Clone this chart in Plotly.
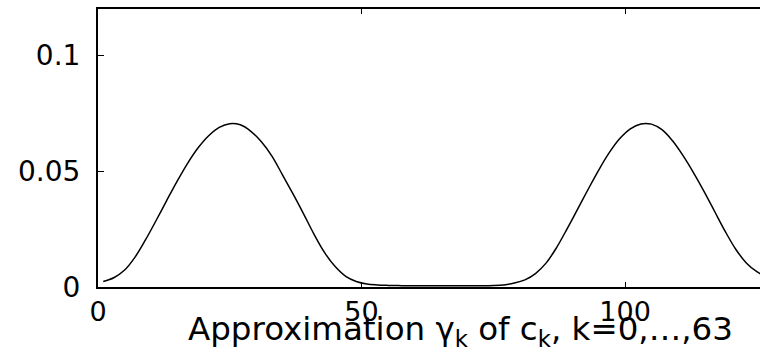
import plotly.graph_objects as go

# Data (index k, approximation value)
k_vals = [1, 3, 5, 7, 9, 11, 13, 15, 17, 19, 21, 23, 25, 27, 29, 31, 33, 35, 37, 39,
          41, 43, 45, 47, 49, 51, 53, 55, 57, 59, 61, 63, 65, 67, 69, 71, 73, 75, 77, 79,
          81, 83, 85, 87, 89, 91, 93, 95, 97, 99, 101, 103, 105, 107, 109, 111, 113, 115,
          117, 119, 121, 123, 125, 127]
gamma_vals = [0.0024, 0.0040, 0.0072, 0.0128, 0.0203, 0.0286, 0.0372, 0.0456, 0.0534, 0.0601,
              0.0653, 0.0689, 0.0705, 0.0700, 0.0672, 0.0627, 0.0565, 0.0484, 0.0402, 0.0316,
              0.0227, 0.0148, 0.0088, 0.0046, 0.0024, 0.0013, 0.0009, 0.0007, 0.0006, 0.0005,
              0.0005, 0.0005, 0.0005, 0.0005, 0.0005, 0.0005, 0.0005, 0.0006, 0.0009, 0.0017,
              0.0031, 0.0058, 0.0103, 0.0170, 0.0251, 0.0336, 0.0422, 0.0505, 0.0580, 0.0641,
              0.0683, 0.0704, 0.0703, 0.0679, 0.0631, 0.0567, 0.0493, 0.0412, 0.0326, 0.0240,
              0.0163, 0.0104, 0.0066, 0.0042]

x_ticks = [0, 50, 100]
y_ticks = [0, 0.05, 0.1]
y_tick_text = ["0", "0.05", "0.1"]
x_label = "Approximation γ<sub>k</sub> of c<sub>k</sub>, k=0,…,63"

FONT = "DejaVu Sans"

fig = go.Figure()
fig.add_trace(go.Scatter(
    x=k_vals, y=gamma_vals, mode="lines",
    line=dict(color="black", width=1.5, shape="spline", smoothing=1.0),
    showlegend=False, hoverinfo="skip",
))

fig.update_layout(
    width=760, height=358,
    margin=dict(l=98, r=0, t=9, b=71),
    paper_bgcolor="white", plot_bgcolor="white",
    font=dict(family=FONT, size=27, color="black"),
    xaxis=dict(
        range=[0, 125.6], tickvals=x_ticks, ticktext=[str(v) for v in x_ticks],
        ticks="inside", ticklen=5, tickwidth=1, tickcolor="black",
        showline=True, linecolor="black", linewidth=2, mirror="ticks",
        showgrid=False, zeroline=False,
        tickfont=dict(family=FONT, size=27, color="black"),
        ticklabelstandoff=0,
    ),
    yaxis=dict(
        range=[0, 0.12], tickvals=y_ticks, ticktext=y_tick_text,
        ticks="inside", ticklen=6, tickwidth=1, tickcolor="black",
        showline=True, linecolor="black", linewidth=2, mirror=False,
        showgrid=False, zeroline=False,
        tickfont=dict(family=FONT, size=28, color="black"),
        ticklabelstandoff=10,
    ),
)

fig.add_annotation(
    text=x_label, xref="paper", yref="paper",
    x=(460 - 98) / 662, y=-0.16, xanchor="center", yanchor="middle",
    showarrow=False, font=dict(family=FONT, size=32.5, color="black"),
)

fig.write_html("out.html")
